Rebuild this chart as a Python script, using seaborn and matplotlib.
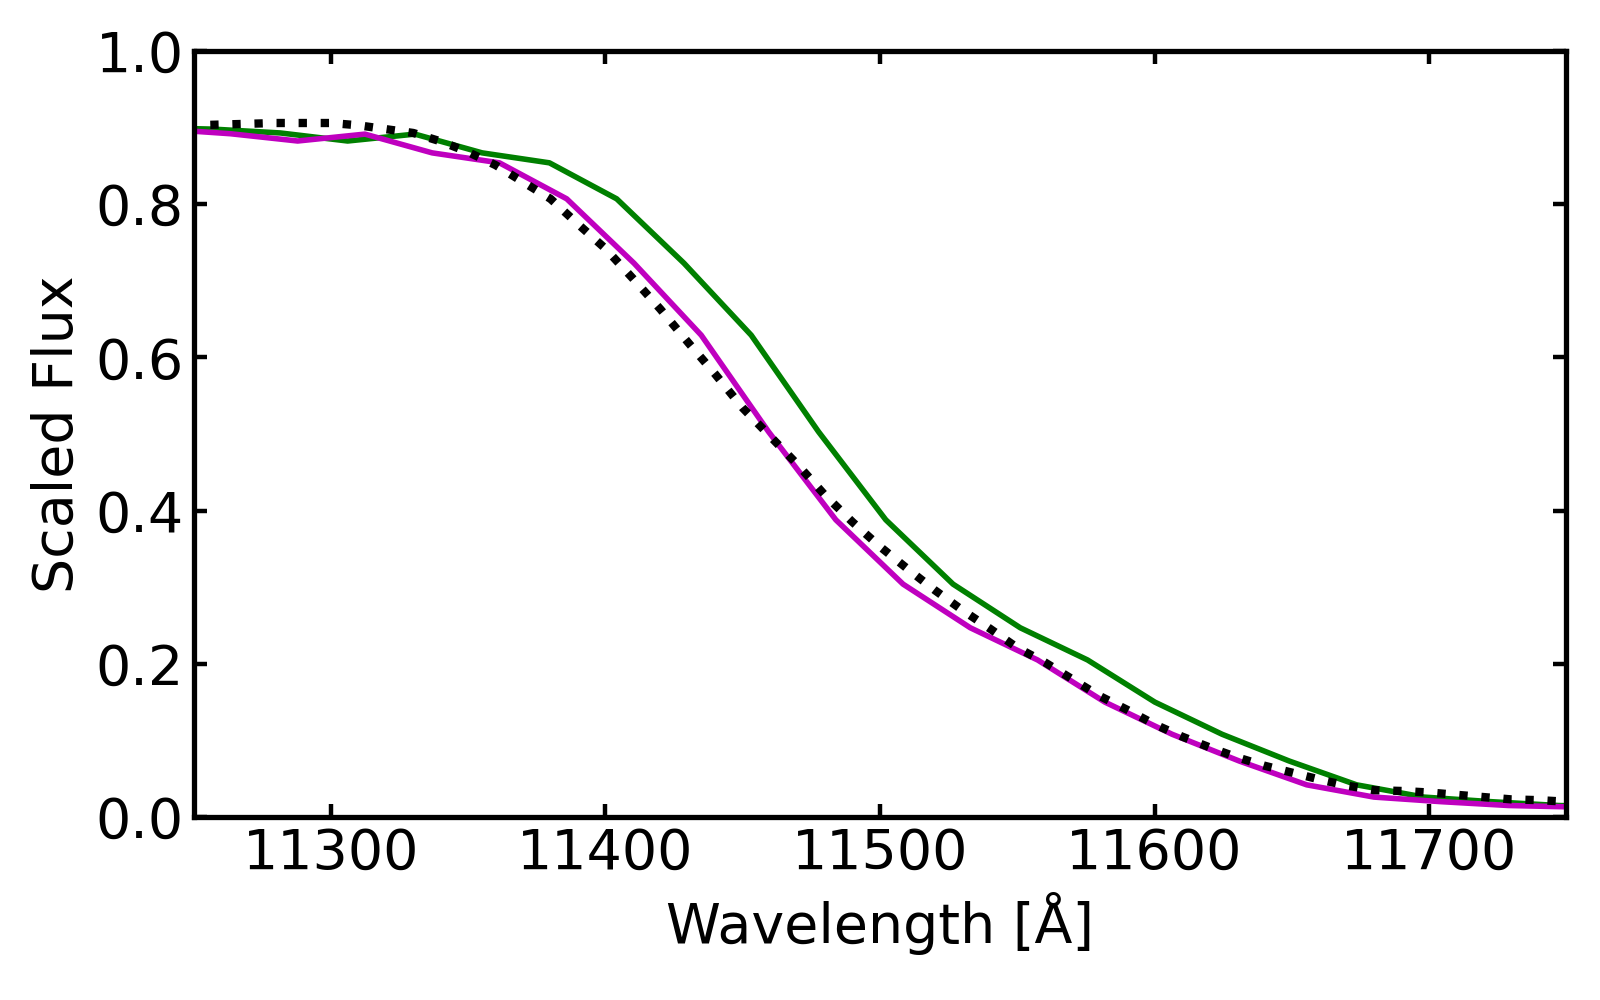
import numpy as np
import pandas as pd
import matplotlib
matplotlib.use("Agg")
import matplotlib.pyplot as plt
import seaborn as sns

# model spectrum (dotted)
model_wave = [11240, 11250, 11260, 11270, 11280, 11290, 11300, 11310, 11320, 11330,
              11340, 11350, 11360, 11370, 11380, 11390, 11400, 11410, 11420, 11430,
              11440, 11450, 11460, 11470, 11480, 11490, 11500, 11510, 11520, 11530,
              11540, 11550, 11560, 11570, 11580, 11590, 11600, 11610, 11620, 11630,
              11640, 11650, 11660, 11670, 11680, 11690, 11700, 11710, 11720, 11730,
              11740, 11750, 11760]
model_flux = [0.902, 0.903, 0.904, 0.905, 0.906, 0.906, 0.906, 0.903, 0.898, 0.893,
              0.882, 0.868, 0.851, 0.829, 0.807, 0.774, 0.742, 0.703, 0.663, 0.620,
              0.578, 0.534, 0.497, 0.460, 0.420, 0.385, 0.353, 0.324, 0.296, 0.270,
              0.246, 0.221, 0.202, 0.180, 0.158, 0.140, 0.121, 0.105, 0.091, 0.078,
              0.067, 0.058, 0.049, 0.041, 0.035, 0.034, 0.032, 0.029, 0.026, 0.023,
              0.022, 0.020, 0.019]

# magenta spectrum
mag_wave = [11238.9, 11263.4, 11287.9, 11312.4, 11336.9, 11361.4, 11385.9, 11410.4,
            11434.9, 11459.4, 11483.9, 11508.4, 11532.9, 11557.4, 11581.9, 11606.4,
            11630.9, 11655.4, 11679.9, 11704.4, 11728.9, 11753.4]
mag_flux = [0.898, 0.892, 0.8825, 0.8915, 0.867, 0.854, 0.807, 0.723,
            0.629, 0.503, 0.388, 0.304, 0.247, 0.205, 0.150, 0.108,
            0.073, 0.042, 0.026, 0.020, 0.015, 0.013]

# green spectrum
grn_wave = [11232.6, 11257.1, 11281.6, 11306.1, 11330.6, 11355.1, 11379.6, 11404.1,
            11428.6, 11453.1, 11477.6, 11502.1, 11526.6, 11551.1, 11575.6, 11600.1,
            11624.6, 11649.1, 11673.6, 11698.1, 11722.6, 11747.1, 11771.6]
grn_flux = [0.900, 0.898, 0.893, 0.8825, 0.8915, 0.867, 0.854, 0.807,
            0.723, 0.629, 0.503, 0.388, 0.304, 0.247, 0.205, 0.150,
            0.108, 0.073, 0.042, 0.026, 0.020, 0.015, 0.013]

xticks = [11300, 11400, 11500, 11600, 11700]
yticks = [0.0, 0.2, 0.4, 0.6, 0.8, 1.0]

sns.set_style("ticks")
plt.rcParams['font.family'] = ['DejaVu Sans']
plt.rcParams.update({
    'font.size': 20,
    'text.color': 'black',
    'axes.labelcolor': 'black',
    'xtick.direction': 'in',
    'ytick.direction': 'in',
    'xtick.major.size': 4.7,
    'ytick.major.size': 4.7,
    'xtick.major.width': 1.6,
    'ytick.major.width': 1.6,
    'axes.linewidth': 1.9,
    'axes.edgecolor': 'black',
    'xtick.color': 'black',
    'ytick.color': 'black',
})

fig, ax = plt.subplots(figsize=(8, 5), dpi=200)
fig.subplots_adjust(left=0.121, right=0.979, bottom=0.183, top=0.949)

df_g = pd.DataFrame({'wave': grn_wave, 'flux': grn_flux})
df_m = pd.DataFrame({'wave': mag_wave, 'flux': mag_flux})
df_k = pd.DataFrame({'wave': model_wave, 'flux': model_flux})

sns.lineplot(data=df_g, x='wave', y='flux', color='g', lw=2.0, sort=False,
             estimator=None, ax=ax)
sns.lineplot(data=df_m, x='wave', y='flux', color='m', lw=2.0, sort=False,
             estimator=None, ax=ax)
sns.lineplot(data=df_k, x='wave', y='flux', color='k', lw=3.0, sort=False,
             estimator=None, linestyle=':', ax=ax)

ax.set_xlim(11250, 11750)
ax.set_ylim(0, 1)
ax.set_xticks(xticks)
ax.set_yticks(yticks)
ax.set_yticklabels([f"{v:.1f}" for v in yticks])
ax.tick_params(axis='both', labelsize=20, top=True, right=True)
ax.set_xlabel('Wavelength [Å]', fontsize=20, color='black')
ax.set_ylabel('Scaled Flux', fontsize=20, color='black')

fig.savefig('out.png', dpi=200)
